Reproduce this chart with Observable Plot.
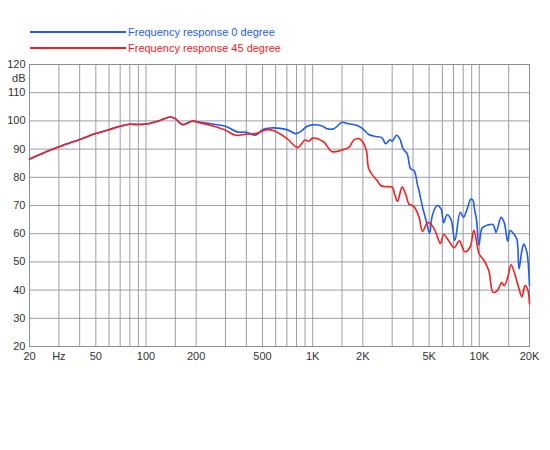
<!DOCTYPE html>
<html>
<head>
<meta charset="utf-8">
<script src="https://cdn.jsdelivr.net/npm/d3@7"></script>
<script src="https://cdn.jsdelivr.net/npm/@observablehq/plot@0.6"></script>
<style>
  body { margin: 0; background: #fff; font-family: "Liberation Sans", Arial, sans-serif; }
  #legend { height: 56px; position: relative; }
  .row { position: absolute; left: 30px; display: flex; align-items: center; font-size: 11px; }
  .row .sw { width: 96px; height: 2px; margin-right: 2px; }
</style>
</head>
<body>
<div id="legend"></div>
<div id="chart"></div>
<script>
// 0 degree curve
const freq0 = [20, 22.7, 30, 40, 50, 60, 70, 80, 90, 100, 119, 140, 150, 165, 189,
  212, 255, 300, 352, 400, 454, 500, 558, 700, 789, 842, 928, 1000, 1140, 1220, 1340,
  1500, 1610, 1850, 2000, 2170, 2380, 2610, 2740, 2910, 3000, 3180, 3330, 3490, 3690,
  3870, 4060, 4250, 4350, 4560, 4680, 4850, 5030, 5220, 5580, 5900, 6110, 6400, 6750,
  7130, 7680, 8030, 8420, 8900, 9160, 9320, 9630, 9950, 10400, 11300, 12100, 12600,
  13500, 14100, 14800, 15300, 16100, 16800, 17300, 18000, 18500, 19200, 19500, 20000];
const db0 = [86.4, 87.9, 90.8, 93.4, 95.5, 96.9, 98.1, 98.8, 98.7, 98.9, 100, 101.4, 100.8, 98.7, 99.9,
  99.5, 98.8, 98.1, 96.1, 96.0, 94.9, 96.9, 97.5, 96.9, 95.5, 96.1, 98.1, 98.6, 98.2, 97.2, 97.2,
  99.5, 99.1, 98.4, 97.2, 95.2, 94.5, 94.0, 91.9, 93.3, 92.8, 94.9, 93.7, 90.1, 88.3,
  83.0, 82.4, 77.5, 75.2, 69.5, 67.0, 63.4, 60.2, 66.4, 70.0, 68.7, 63.9, 66.7, 65.2,
  57.6, 67.6, 65.8, 68.5, 72.3, 71.9, 69.3, 64.6, 55.9, 62.0, 63.1, 63.2, 60.5,
  65.8, 64.0, 57.3, 61.1, 59.9, 58.0, 47.5, 54.0, 56.3, 54.0, 51.7, 41.6];

// 45 degree curve
const freq45 = [20, 22.7, 30, 40, 50, 60, 70, 80, 90, 100, 119, 140, 150, 165, 189,
  212, 255, 300, 344, 400, 454, 534, 585, 700, 812, 900, 950, 1000, 1160, 1310, 1540,
  1660, 1770, 1910, 2000, 2100, 2170, 2300, 2440, 2560, 2740, 3000, 3100, 3230, 3440,
  3610, 3780, 3870, 4090, 4350, 4560, 4900, 5220, 5480, 5840, 6110, 6550, 7060, 7590,
  8170, 8790, 9270, 9700, 9980, 10700, 11400, 12100, 12900, 13600, 14100, 14800, 15500,
  16200, 17200, 18000, 18800, 19500, 20000];
const db45 = [86.4, 87.9, 90.8, 93.4, 95.5, 96.9, 98.1, 98.8, 98.7, 98.9, 100, 101.4, 100.8, 98.7, 99.9,
  99.3, 98.1, 96.7, 94.9, 95.3, 95.5, 96.9, 96.5, 93.8, 90.6, 93.2, 92.8, 93.9, 92.6, 89.1, 89.9,
  90.8, 93.3, 93.7, 92.5, 89.5, 83.0, 80.6, 78.8, 77.1, 76.7, 76.5, 74.1, 71.5, 76.5,
  74.1, 70.5, 70.3, 69.3, 65.8, 60.8, 64.0, 62.8, 60.5, 56.5, 59.7, 57.5, 55.0, 57.5,
  53.6, 55.2, 61.2, 56.0, 52.8, 50.4, 46.9, 39.2, 40.0, 42.7, 41.6, 44.5, 49.0,
  46.3, 41.0, 37.6, 41.6, 40.2, 35.1];

const seriesNames = ["Frequency response 0 degree", "Frequency response 45 degree"];
const seriesColors = ["#1f5cf5", "#f5201f"];

const xTicks = [20, 30, 50, 100, 200, 500, 1000, 2000, 5000, 10000, 20000];
const xTickLabels = ["20", "Hz", "50", "100", "200", "500", "1K", "2K", "5K", "10K", "20K"];
const xGrid = [20, 30, 40, 50, 60, 70, 80, 90, 100, 150, 200, 300, 400, 500, 600, 700, 800, 900,
  1000, 1500, 2000, 3000, 4000, 5000, 6000, 7000, 8000, 9000, 10000, 15000, 20000];
const yTicks = [20, 30, 40, 50, 60, 70, 80, 90, 100, 110, 115, 120];
const yTickLabels = ["20", "30", "40", "50", "60", "70", "80", "90", "100", "110", "dB", "120"];
const yGrid = [20, 30, 40, 50, 60, 70, 80, 90, 100, 110, 120];

const data = [
  ...freq0.map((f, i) => ({f, db: db0[i], s: seriesNames[0]})),
  ...freq45.map((f, i) => ({f, db: db45[i], s: seriesNames[1]})),
];

// legend
const legend = document.getElementById("legend");
seriesNames.forEach((name, i) => {
  const row = document.createElement("div");
  row.className = "row";
  row.style.top = (26 + i * 16) + "px";
  row.style.color = seriesColors[i];
  row.innerHTML = `<span class="sw" style="background:${seriesColors[i]}"></span>${name}`;
  legend.appendChild(row);
});

document.getElementById("chart").appendChild(
  Plot.plot({
    width: 550,
    height: 310,
    marginTop: 8,
    marginBottom: 20,
    marginLeft: 29,
    marginRight: 21,
    style: {fontFamily: "Liberation Sans, Arial, sans-serif", fontSize: "11px", color: "#333", background: "#fff"},
    x: {type: "log", domain: [20, 20000], axis: null},
    y: {domain: [20, 120]},
    color: {domain: seriesNames, range: seriesColors},
    marks: [
      Plot.ruleX(xGrid, {stroke: "#9a9ea8", strokeWidth: 1, strokeOpacity: 1}),
      Plot.ruleY(yGrid, {stroke: "#9a9ea8", strokeWidth: 1, strokeOpacity: 1}),
      Plot.frame({stroke: "#8a8e96"}),
      Plot.text(xTicks, {
        x: d => d, frameAnchor: "bottom", dy: 13,
        text: (d, i) => xTickLabels[i], fill: "#333",
      }),
      Plot.axisY({
        ticks: yTicks, tickSize: 0, tickPadding: 4,
        tickFormat: d => yTickLabels[yTicks.indexOf(d)],
        label: null, fill: "#333",
      }),
      Plot.line(data, {
        x: "f", y: "db", z: "s", stroke: "s",
        strokeWidth: 1.6, curve: "catmull-rom",
      }),
    ]
  })
);
</script>
</body>
</html>
